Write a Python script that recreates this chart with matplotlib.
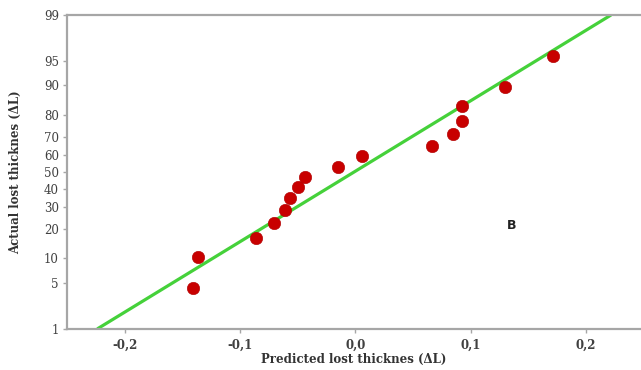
import numpy as np
import matplotlib
matplotlib.use("Agg")
import matplotlib.pyplot as plt
from matplotlib.ticker import FixedLocator, FuncFormatter, NullLocator
from statistics import NormalDist

# ---- data ----
predicted = [-0.1407, -0.1366, -0.0866, -0.0704, -0.0614, -0.0568, -0.0496, -0.0438,
             -0.0154, 0.0059, 0.0670, 0.0848, 0.0925, 0.0925, 0.1300, 0.1720]
actual_pct = [4.3, 10.4, 16.5, 22.6, 28.7, 34.8, 40.9, 47.0,
              53.0, 59.2, 65.2, 71.3, 77.4, 83.5, 89.6, 95.7]
fit_x = [-0.224, 0.222]
fit_pct = [1, 99]
y_ticks = [1, 5, 10, 20, 30, 40, 50, 60, 70, 80, 90, 95, 99]
x_ticks = [-0.2, -0.1, 0.0, 0.1, 0.2]

_nd = NormalDist()
_ppf = np.vectorize(lambda p: _nd.inv_cdf(min(max(p / 100.0, 1e-9), 1 - 1e-9)), otypes=[float])
_cdf = np.vectorize(lambda z: _nd.cdf(z) * 100.0, otypes=[float])

def fwd(p):
    return _ppf(np.asarray(p, dtype=float))

def inv(z):
    return _cdf(np.asarray(z, dtype=float))

fig = plt.figure(figsize=(6.41, 3.70), dpi=100)
ax = fig.add_axes([0.105, 0.111, 0.895, 0.8485])
ax.set_yscale("function", functions=(fwd, inv))

ax.plot(fit_x, fit_pct, color="#45d13a", lw=2.3, zorder=2, solid_capstyle="butt")
ax.scatter(predicted, actual_pct, s=80, color="#c80000", edgecolor="#b00000",
           linewidth=0.4, zorder=3)

ax.set_xlim(-0.25, 0.248)
ax.set_ylim(1, 99)

ax.yaxis.set_major_locator(FixedLocator(y_ticks))
ax.yaxis.set_minor_locator(NullLocator())
ax.yaxis.set_major_formatter(FuncFormatter(lambda v, p: f"{v:g}"))
ax.xaxis.set_major_locator(FixedLocator(x_ticks))
ax.xaxis.set_major_formatter(FuncFormatter(lambda v, p: f"{v:.1f}".replace(".", ",").replace("-0,0", "0,0")))

gray = "#a6a6a6"
for s in ["left", "bottom", "top"]:
    ax.spines[s].set_color(gray)
    ax.spines[s].set_linewidth(1.6)
ax.spines["right"].set_visible(False)

ax.tick_params(axis="both", colors=gray, length=3, width=1)
for lab in ax.get_yticklabels():
    lab.set_fontfamily("DejaVu Serif")
    lab.set_fontsize(8.5)
    lab.set_color("#404040")
for lab in ax.get_xticklabels():
    lab.set_fontfamily("DejaVu Serif")
    lab.set_fontsize(8.5)
    lab.set_fontweight("bold")
    lab.set_color("#404040")
ax.tick_params(axis="x", pad=4)
ax.tick_params(axis="y", pad=3)

ax.set_xlabel("Predicted lost thicknes (ΔL)", fontfamily="DejaVu Serif",
              fontweight="bold", fontsize=8.5, color="#333333", labelpad=1)
ax.set_ylabel("Actual lost thicknes (ΔL)", fontfamily="DejaVu Serif",
              fontweight="bold", fontsize=8.5, color="#333333", labelpad=16)

ax.text(0.1355, 21.3, "B", fontsize=9, fontweight="bold", color="#222222",
        ha="center", va="center")

fig.savefig("out.png", dpi=100)
